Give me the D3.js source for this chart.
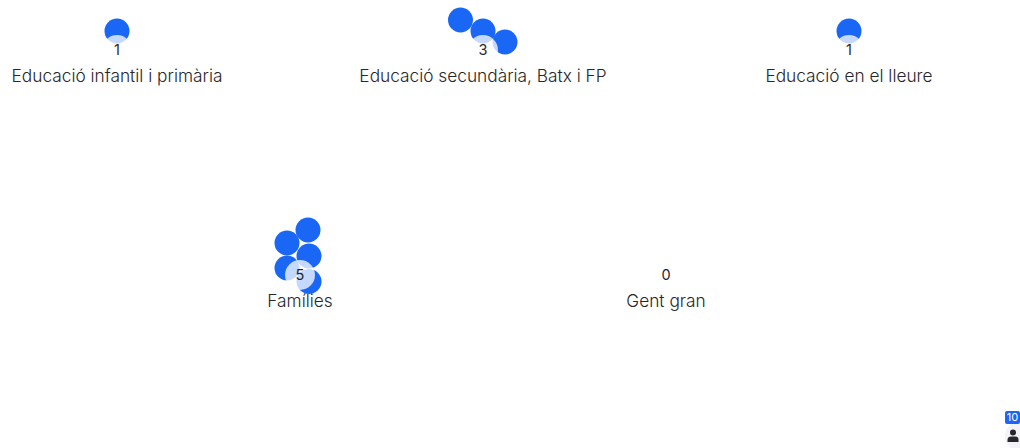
<!DOCTYPE html>
<html>
<head>
<meta charset="utf-8">
<script src="https://cdn.jsdelivr.net/npm/d3@7"></script>
<style>
  html, body { margin: 0; padding: 0; background: #fff; }
  text { font-family: Inter, "Noto Sans", sans-serif; fill: #26262b; }
</style>
</head>
<body>
<svg id="chart"></svg>
<script>
const width = 1020, height = 448

// one entry per group
const categories = ["Educació infantil i primària", "Educació secundària, Batx i FP", "Educació en el lleure", "Famílies", "Gent gran"]
const counts = [1, 3, 1, 5, 0]
const columns = [0, 2, 4, 1, 3]
const rows = [0, 0, 0, 1, 1]

// where each dot landed, relative to the number of its group
const dotGroup = [0, 1, 1, 1, 2, 3, 3, 3, 3, 3]
const dotDx = [0, -22.5, 0, 22, 0, 8, -13, 9, -13, 9]
const dotDy = [-19, -30, -19, -8, -19, -45, -32, -19, -7, 6.5]

const total = 10

const svg = d3.select("svg#chart")
    .attr("viewBox", [0, 0, width, height])
    .attr("width", width)
    .attr("height", height)
    .style("display", "block")

const xScale = d3.scaleLinear().domain([0, 4]).range([117, 849])
const yScale = d3.scaleLinear().domain([0, 1]).range([50, 275])
const dxScale = d3.scaleLinear().domain([-100, 100]).range([-100, 100])
const dyScale = d3.scaleLinear().domain([-100, 100]).range([-100, 100])

const groupX = i => xScale(columns[i])
const groupY = i => yScale(rows[i])

// Dots
svg.append("g").classed("dots", true)
    .selectAll("circle")
    .data(dotGroup)
    .enter()
    .append("circle")
    .attr("cx", (g, i) => groupX(g) + dxScale(dotDx[i]))
    .attr("cy", (g, i) => groupY(g) + dyScale(dotDy[i]))
    .attr("r", 12.5)
    .attr("fill", "#1a66f5")

// Pale disc behind the numbers
svg.append("g").classed("halos", true)
    .selectAll("circle")
    .data(categories)
    .enter()
    .append("circle")
    .attr("cx", (d, i) => groupX(i))
    .attr("cy", (d, i) => groupY(i))
    .attr("r", 15)
    .attr("fill", "#fff")
    .attr("fill-opacity", 0.75)

// Numbers
svg.append("g").classed("counts", true)
    .selectAll("text")
    .data(counts)
    .enter()
    .append("text")
    .attr("x", (d, i) => groupX(i))
    .attr("y", (d, i) => groupY(i))
    .attr("dy", "0.36em")
    .attr("text-anchor", "middle")
    .attr("font-size", 14.5)
    .text(d => d)

// Labels
svg.append("g").classed("labels", true)
    .selectAll("text")
    .data(categories)
    .enter()
    .append("text")
    .attr("x", (d, i) => groupX(i))
    .attr("y", (d, i) => groupY(i) + 26)
    .attr("dy", "0.36em")
    .attr("text-anchor", "middle")
    .attr("font-size", 17.3)
    .attr("font-weight", 300)
    .text(d => d)

// Total badge, bottom right
const badge = svg.append("g").classed("badge", true)
badge.append("circle")
    .attr("cx", 1020)
    .attr("cy", 436)
    .attr("r", 15)
    .attr("fill", "#f3f2f7")
badge.append("rect")
    .attr("x", 1005)
    .attr("y", 411)
    .attr("width", 15)
    .attr("height", 13)
    .attr("rx", 2)
    .attr("fill", "#1a66f5")
badge.append("text")
    .attr("x", 1012.5)
    .attr("y", 417.5)
    .attr("dy", "0.36em")
    .attr("text-anchor", "middle")
    .attr("font-size", 11)
    .style("fill", "#fff")
    .text(total)
badge.append("circle")
    .attr("cx", 1013)
    .attr("cy", 432.5)
    .attr("r", 3)
    .attr("fill", "#26262b")
badge.append("path")
    .attr("d", "M1007.5 442 v-2 q0 -3.5 3.5 -3.5 h4 q3.5 0 3.5 3.5 v2 z")
    .attr("fill", "#26262b")
</script>
</body>
</html>
